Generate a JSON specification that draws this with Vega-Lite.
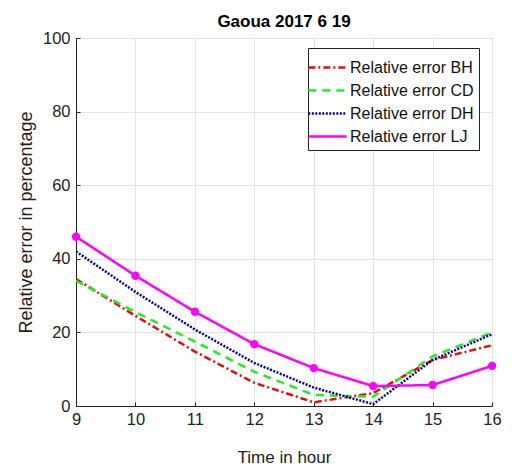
{
  "$schema": "https://vega.github.io/schema/vega-lite/v6.json",
  "width": 416,
  "height": 368,
  "autosize": "none",
  "padding": {"left": 76, "top": 38, "right": 20, "bottom": 63},
  "background": "white",
  "title": {"text": "Gaoua 2017 6 19", "font": "Liberation Sans", "fontSize": 17, "fontWeight": "bold", "color": "black", "offset": 3, "dy": 4, "anchor": "middle"},
  "config": {
    "view": {"stroke": "#222", "strokeWidth": 1},
    "axis": {"labelFont": "Liberation Sans", "titleFont": "Liberation Sans", "labelColor": "#222", "titleColor": "#222", "titleFontWeight": "normal", "domainColor": "#222", "tickColor": "#222", "gridColor": "#e3e3e3", "grid": true}
  },
  "data": {"values": [
    {"hour": 9, "series": "Relative error BH", "value": 34.5},
    {"hour": 10, "series": "Relative error BH", "value": 24.5},
    {"hour": 11, "series": "Relative error BH", "value": 14.8},
    {"hour": 12, "series": "Relative error BH", "value": 6.3},
    {"hour": 13, "series": "Relative error BH", "value": 1.0},
    {"hour": 14, "series": "Relative error BH", "value": 3.5},
    {"hour": 15, "series": "Relative error BH", "value": 12.5},
    {"hour": 16, "series": "Relative error BH", "value": 16.5},
    {"hour": 9, "series": "Relative error CD", "value": 34.0},
    {"hour": 10, "series": "Relative error CD", "value": 25.5},
    {"hour": 11, "series": "Relative error CD", "value": 17.5},
    {"hour": 12, "series": "Relative error CD", "value": 9.3},
    {"hour": 13, "series": "Relative error CD", "value": 3.0},
    {"hour": 14, "series": "Relative error CD", "value": 2.5},
    {"hour": 15, "series": "Relative error CD", "value": 13.5},
    {"hour": 16, "series": "Relative error CD", "value": 20.0},
    {"hour": 9, "series": "Relative error DH", "value": 42.0},
    {"hour": 10, "series": "Relative error DH", "value": 31.0},
    {"hour": 11, "series": "Relative error DH", "value": 20.8},
    {"hour": 12, "series": "Relative error DH", "value": 11.7},
    {"hour": 13, "series": "Relative error DH", "value": 5.0},
    {"hour": 14, "series": "Relative error DH", "value": 0.5},
    {"hour": 15, "series": "Relative error DH", "value": 12.5},
    {"hour": 16, "series": "Relative error DH", "value": 19.5},
    {"hour": 9, "series": "Relative error LJ", "value": 46.0},
    {"hour": 10, "series": "Relative error LJ", "value": 35.4},
    {"hour": 11, "series": "Relative error LJ", "value": 25.6},
    {"hour": 12, "series": "Relative error LJ", "value": 16.8},
    {"hour": 13, "series": "Relative error LJ", "value": 10.3},
    {"hour": 14, "series": "Relative error LJ", "value": 5.4},
    {"hour": 15, "series": "Relative error LJ", "value": 5.7},
    {"hour": 16, "series": "Relative error LJ", "value": 10.9}
  ]},
  "layer": [
    {
      "mark": {"type": "line", "strokeWidth": 2.5, "clip": true},
      "encoding": {
        "x": {"field": "hour", "type": "quantitative", "scale": {"domain": [9, 16], "nice": false, "zero": false},
              "axis": {"title": "Time in hour", "values": [9,10,11,12,13,14,15,16], "format": "d", "labelFontSize": 16.5, "titleFontSize": 17, "tickSize": -4, "labelPadding": 9, "titlePadding": 22, "labelFlush": false}},
        "y": {"field": "value", "type": "quantitative", "scale": {"domain": [0, 100], "nice": false},
              "axis": {"title": "Relative error in percentage", "values": [0,20,40,60,80,100], "labelFontSize": 16.5, "titleFontSize": 18, "tickSize": -4, "labelPadding": 10, "titlePadding": 7, "labelFlush": false}},
        "color": {"field": "series", "type": "nominal",
                  "scale": {"domain": ["Relative error BH","Relative error CD","Relative error DH","Relative error LJ"], "range": ["#dd1111","#22ee22","#000099","#ff00ff"]},
                  "legend": {"title": null, "orient": "none", "legendX": 232, "legendY": 10, "symbolType": "M-1.45,0H1.45", "symbolSize": 700, "symbolStrokeWidth": 2.5, "labelFont": "Liberation Sans", "labelFontSize": 16, "labelColor": "#111", "strokeColor": "#222", "fillColor": "white", "padding": 5, "rowPadding": -3, "labelOffset": 8}},
        "strokeDash": {"field": "series", "type": "nominal",
                  "scale": {"domain": ["Relative error BH","Relative error CD","Relative error DH","Relative error LJ"], "range": [[7,3,2,3],[8,6],[2,1.5],[1,0]]},
                  "legend": null}
      }
    },
    {
      "transform": [{"filter": "datum.series === 'Relative error LJ'"}],
      "mark": {"type": "circle", "size": 70, "opacity": 1, "color": "#ff00ff"},
      "encoding": {
        "x": {"field": "hour", "type": "quantitative"},
        "y": {"field": "value", "type": "quantitative"}
      }
    }
  ]
}
